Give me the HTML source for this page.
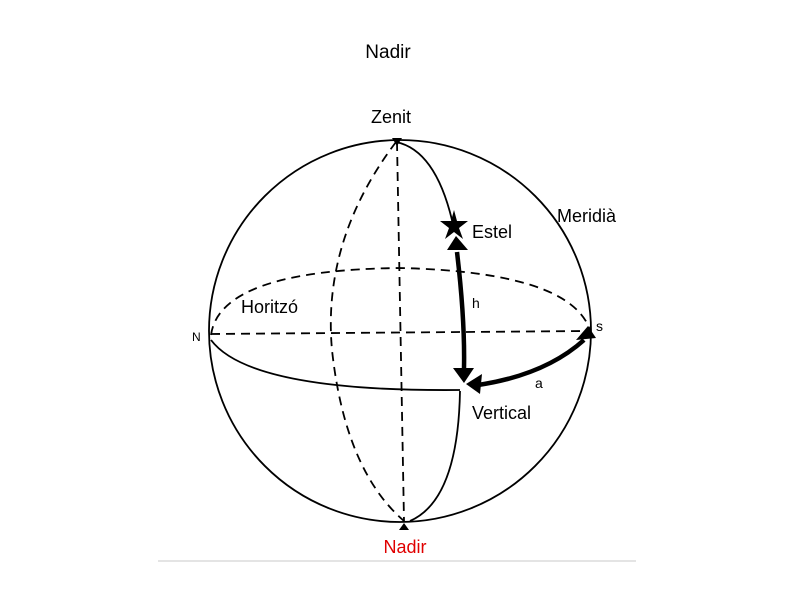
<!DOCTYPE html>
<html><head><style>
body{margin:0;width:800px;height:600px;background:#fff;overflow:hidden}
text{font-family:"Liberation Sans",sans-serif}
</style></head><body>
<svg width="800" height="600" viewBox="0 0 800 600" xmlns="http://www.w3.org/2000/svg">
<text x="388" y="58" font-size="19" text-anchor="middle" fill="#000">Nadir</text>
<line x1="158" y1="561" x2="636" y2="561" stroke="#e4e4e4" stroke-width="2"/>
<g fill="none" stroke="#000" stroke-width="1.8">
<circle cx="400" cy="331" r="191"/>
<path d="M396 142 Q322 240 332 350 Q345 470 404 521" stroke-dasharray="9,6"/>
<line x1="397" y1="142" x2="404" y2="521" stroke-dasharray="9,6"/>
<path d="M211 335 Q220 270 400 268 Q570 272 590 330" stroke-dasharray="9,6"/>
<line x1="211" y1="334" x2="590" y2="331" stroke-dasharray="9,6"/>
<path d="M211 340 Q250 392 460 390"/>
<path d="M460 391 Q458 500 410 521"/>
<path d="M396 142 Q435 150 452 220"/>
</g>
<g stroke="#000" stroke-width="4.5" fill="none">
<path d="M457 252 Q465 320 464 368"/>
<path d="M478 385 Q545 375 584 340"/>
</g>
<polygon points="447,250 468,250 456,236" fill="#000"/>
<polygon points="453,368 474,368 464,383" fill="#000"/>
<polygon points="466,384 482,374 480,394" fill="#000"/>
<polygon points="576,340 596,338 588,326" fill="#000"/>
<polygon points="392,138 402,138 397,146" fill="#000"/>
<polygon points="399,530 409,530 404,523" fill="#000"/>
<polygon points="454,210 457,221 468,221 459,228 463,239 454,232 445,239 449,228 440,221 451,221" fill="#000"/>
<g font-size="18" fill="#000">
<text x="371" y="123">Zenit</text>
<text x="472" y="238">Estel</text>
<text x="557" y="222">Meridià</text>
<text x="241" y="313">Horitzó</text>
<text x="472" y="419">Vertical</text>
</g>
<text x="472" y="308" font-size="14">h</text>
<text x="535" y="388" font-size="14">a</text>
<text x="596" y="331" font-size="14">s</text>
<text x="192" y="341" font-size="12">N</text>
<text x="405" y="553" font-size="18" fill="#e00000" text-anchor="middle">Nadir</text>
</svg>
</body></html>
